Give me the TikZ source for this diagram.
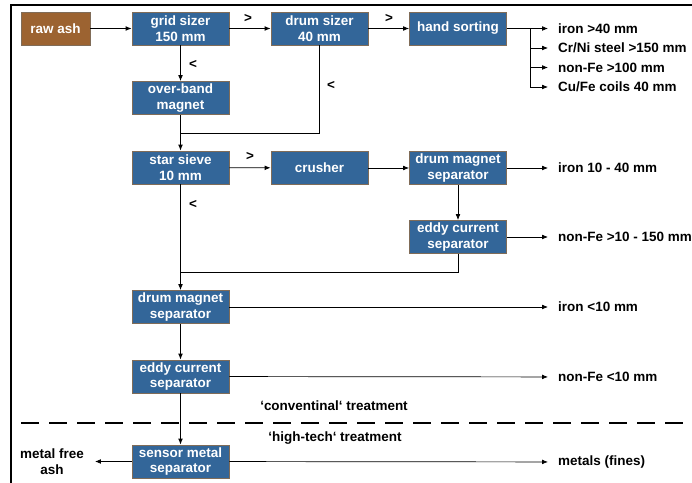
\documentclass[tikz,border=0pt]{standalone}
\usepackage{fontspec}
\setmainfont{Liberation Sans}
\usetikzlibrary{arrows.meta,positioning,calc}

\definecolor{boxblue}{RGB}{51,102,153}
\definecolor{ashbrown}{RGB}{156,99,49}
\definecolor{boxrim}{RGB}{128,108,88}

\tikzset{
  unit/.style={rectangle, draw=boxrim, line width=0.8pt, fill=boxblue, text=white,
    font=\bfseries\fontsize{11.5}{13.6}\selectfont, align=center,
    minimum width=2.91cm, minimum height=0.99cm, inner sep=1pt},
  feed/.style={unit, fill=ashbrown, minimum width=2.07cm},
  flow/.style={-{Latex[length=5pt,width=4pt]}, line width=0.6pt},
  link/.style={line width=0.6pt},
  outlbl/.style={anchor=west, inner xsep=0.3cm, inner ysep=1pt,
    font=\bfseries\fontsize{11.5}{13.6}\selectfont},
  sign/.style={font=\bfseries\fontsize{11.5}{13.6}\selectfont, inner sep=0pt},
}

\begin{document}
\begin{tikzpicture}[x=0.03cm, y=-0.03cm]
    \useasboundingbox (0,0) rectangle (692,483);

    % Frame
    \draw[line width=1.6pt] (11,483) -- (11,5) -- (692,5);

    % Treatment units
    \node[feed] (raw) at (55.5,28.5) {raw ash};
    \node[unit] (grid) at (180.5,28.5) {grid sizer\\150 mm};
    \node[unit] (drum) at (319.5,28.5) {drum sizer\\40 mm};
    \node[unit] (hand) at (458,28.5) {hand sorting};
    \node[unit] (overband) at (180.5,98) {over-band\\magnet};
    \node[unit] (star) at (180.5,167.5) {star sieve\\10 mm};
    \node[unit] (crusher) at (319.5,168) {crusher};
    \node[unit] (drumR) at (458,168) {drum magnet\\separator};
    \node[unit] (eddyR) at (458,237) {eddy current\\separator};
    \node[unit] (drumL) at (180.5,307) {drum magnet\\separator};
    \node[unit] (eddyL) at (180.5,376.5) {eddy current\\separator};
    \node[unit] (sensor) at (180.5,461.5) {sensor metal\\separator};

    % Junctions
    \coordinate (split) at (530,28.5);
    \coordinate (m1) at (180.5,133);
    \coordinate (m2) at (180.5,272);

    % Main flow
    \draw[flow] (raw) -- (grid);
    \draw[flow] (grid) -- (drum);
    \draw[flow] (drum) -- (hand);
    \draw[flow] (grid) -- (overband);
    \draw[flow] (overband) -- (star);
    \draw[link] (drum.south) |- (m1);
    \draw[flow] (star) -- (crusher);
    \draw[flow] (crusher) -- (drumR);
    \draw[flow] (drumR) -- (eddyR);
    \draw[flow] (star) -- (drumL);
    \draw[link] (eddyR.south) |- (m2);
    \draw[flow] (drumL) -- (eddyL);
    \draw[flow] (eddyL) -- (sensor);

    % Size signs
    \node[sign] (gt1) at (248,18) {>};
    \node[sign] (gt2) at (389,18) {>};
    \node[sign] (lt1) at (193,64) {<};
    \node[sign] (lt2) at (331,85) {<};
    \node[sign] (gt3) at (250,156) {>};
    \node[sign] (lt3) at (193,204) {<};

    % Hand sorting products
    \draw[link] (hand) -- (split);
    \foreach \y/\name/\txt in {28.5/o1/{iron >40 mm}, 48/o2/{Cr/Ni steel >150 mm},
                               67.5/o3/{non-Fe >100 mm}, 87/o4/{Cu/Fe coils 40 mm}}
    {
        \node[outlbl] (\name) at (548,\y) {\txt};
        \draw[flow] (split) |- (\name.west);
    }

    % Separator products
    \node[outlbl] (o5) at (548,168) {iron 10 - 40 mm};
    \node[outlbl] (o6) at (548,237) {non-Fe >10 - 150 mm};
    \node[outlbl] (o7) at (548,307) {iron <10 mm};
    \node[outlbl] (o8) at (548,377) {non-Fe <10 mm};
    \node[outlbl] (o9) at (548,462) {metals (fines)};
    \node[outlbl, anchor=east, align=center, inner xsep=0.33cm] (ash) at (95,461.5) {metal free\\ash};
    \draw[flow] (drumR) -- (o5);
    \draw[flow] (eddyR) -- (o6);
    \draw[flow] (drumL) -- (o7);
    \draw[flow] (eddyL) -- (o8);
    \draw[flow] (sensor) -- (o9);
    \draw[flow] (sensor) -- (ash);

    % Conventional / high-tech border
    \draw[line width=2.4pt, dash pattern=on 0.54cm off 0.3cm] (21,423) -- (685,423);
    \node[sign] (conv) at (334,406) {‘conventinal‘ treatment};
    \node[sign] (high) at (335,438) {‘high-tech‘ treatment};
\end{tikzpicture}
\end{document}
